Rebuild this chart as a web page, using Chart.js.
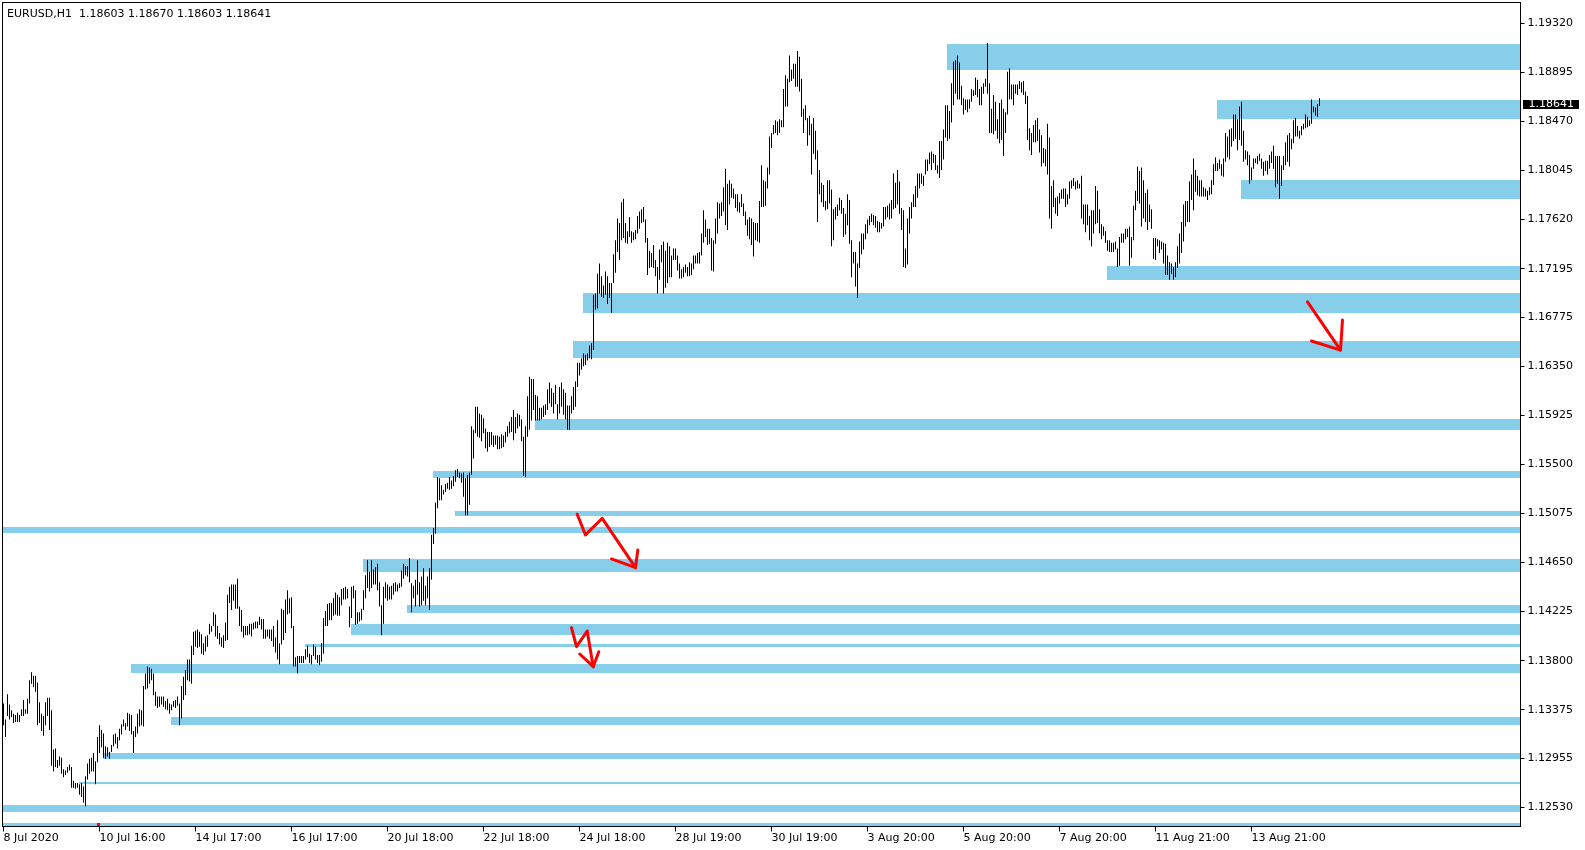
<!DOCTYPE html>
<html lang="en">
<head>
  <meta charset="utf-8">
  <title>EURUSD,H1</title>
  <script src="https://cdn.jsdelivr.net/npm/chart.js@4.4.1/dist/chart.umd.min.js"></script>
  <style>
    html, body { margin: 0; padding: 0; background: #fff; }
  </style>
</head>
<body>
  <canvas id="chart-0" width="1585" height="850"></canvas>

  <script>

    // EURUSD H1 bars (one per hour, oldest first)
    let highs = [
      1.1343,1.1329,1.1351,1.1342,1.1337,1.1334,1.1333,1.1335,1.1333,1.1338,
      1.1346,1.1338,1.1347,1.1363,1.1370,1.1367,1.1367,1.1361,1.1344,1.1334,
      1.1332,1.1344,1.1348,1.1348,1.1337,1.1303,1.1304,1.1294,1.1297,1.1296,
      1.1286,1.1285,1.1288,1.1290,1.1288,1.1276,1.1274,1.1274,1.1273,1.1274,
      1.1271,1.1280,1.1291,1.1295,1.1296,1.1300,1.1293,1.1314,1.1324,1.1320,
      1.1317,1.1306,1.1305,1.1301,1.1307,1.1316,1.1317,1.1314,1.1321,1.1325,
      1.1329,1.1326,1.1335,1.1334,1.1333,1.1319,1.1323,1.1334,1.1338,1.1337,
      1.1358,1.1369,1.1375,1.1374,1.1373,1.1369,1.1353,1.1349,1.1349,1.1349,
      1.1349,1.1345,1.1347,1.1343,1.1342,1.1345,1.1346,1.1349,1.1343,1.1358,
      1.1366,1.1372,1.1381,1.1381,1.1393,1.1405,1.1406,1.1407,1.1405,1.1403,
      1.1395,1.1401,1.1402,1.1412,1.1410,1.1422,1.1420,1.1410,1.1404,1.1400,
      1.1402,1.1413,1.1437,1.1444,1.1446,1.1446,1.1446,1.1451,1.1427,1.1424,
      1.1410,1.1410,1.1410,1.1412,1.1412,1.1413,1.1414,1.1414,1.1418,1.1416,
      1.1416,1.1407,1.1407,1.1407,1.1407,1.1410,1.1400,1.1415,1.1395,1.1425,
      1.1424,1.1433,1.1441,1.1434,1.1435,1.1410,1.1383,1.1384,1.1384,1.1384,
      1.1384,1.1390,1.1393,1.1386,1.1385,1.1394,1.1392,1.1385,1.1385,1.1395,
      1.1417,1.1423,1.1429,1.1430,1.1430,1.1434,1.1439,1.1437,1.1435,1.1442,
      1.1443,1.1444,1.1442,1.1427,1.1444,1.1445,1.1441,1.1422,1.1422,1.1425,
      1.1441,1.1454,1.1467,1.1457,1.1467,1.1459,1.1461,1.1464,1.1448,1.1428,
      1.1444,1.1448,1.1446,1.1444,1.1445,1.1447,1.1448,1.1446,1.1447,1.1458,
      1.1464,1.1462,1.1462,1.1469,1.1447,1.1445,1.1450,1.1467,1.1448,1.1453,
      1.1460,1.1445,1.1453,1.1460,1.1489,1.1495,1.1517,1.1539,1.1538,1.1532,
      1.1528,1.1533,1.1534,1.1539,1.1536,1.1540,1.1545,1.1546,1.1543,1.1542,
      1.1543,1.1538,1.1541,1.1543,1.1583,1.1580,1.1600,1.1600,1.1594,1.1593,
      1.1590,1.1581,1.1578,1.1578,1.1578,1.1575,1.1575,1.1575,1.1574,1.1576,
      1.1575,1.1578,1.1583,1.1587,1.1591,1.1597,1.1591,1.1594,1.1593,1.1589,
      1.1574,1.1583,1.1609,1.1626,1.1624,1.1624,1.1610,1.1609,1.1599,1.1599,
      1.1601,1.1602,1.1615,1.1621,1.1616,1.1612,1.1619,1.1602,1.1617,1.1621,
      1.1615,1.1612,1.1601,1.1601,1.1609,1.1617,1.1622,1.1638,1.1638,1.1642,
      1.1646,1.1645,1.1646,1.1653,1.1655,1.1697,1.1698,1.1715,1.1724,1.1713,
      1.1705,1.1717,1.1713,1.1707,1.1707,1.1732,1.1744,1.1763,1.1759,1.1777,
      1.1780,1.1759,1.1752,1.1764,1.1752,1.1751,1.1753,1.1765,1.1769,1.1771,
      1.1773,1.1762,1.1746,1.1735,1.1733,1.1740,1.1727,1.1721,1.1736,1.1740,
      1.1743,1.1735,1.1742,1.1739,1.1731,1.1737,1.1737,1.1731,1.1724,1.1719,
      1.1721,1.1723,1.1721,1.1725,1.1724,1.1731,1.1731,1.1733,1.1734,1.1750,
      1.1770,1.1762,1.1754,1.1754,1.1746,1.1744,1.1763,1.1777,1.1776,1.1777,
      1.1790,1.1806,1.1793,1.1796,1.1793,1.1789,1.1784,1.1784,1.1777,1.1784,
      1.1776,1.1769,1.1762,1.1764,1.1763,1.1760,1.1759,1.1759,1.1778,1.1809,
      1.1796,1.1795,1.1807,1.1834,1.1837,1.1844,1.1848,1.1847,1.1849,1.1848,
      1.1875,1.1887,1.1884,1.1904,1.1892,1.1897,1.1897,1.1908,1.1903,1.1884,
      1.1858,1.1861,1.1850,1.1852,1.1845,1.1850,1.1839,1.1822,1.1805,1.1794,
      1.1792,1.1778,1.1796,1.1796,1.1788,1.1771,1.1773,1.1775,1.1781,1.1779,
      1.1772,1.1767,1.1784,1.1779,1.1744,1.1734,1.1734,1.1724,1.1743,1.1750,
      1.1750,1.1758,1.1762,1.1765,1.1767,1.1766,1.1765,1.1761,1.1760,1.1759,
      1.1773,1.1773,1.1774,1.1776,1.1779,1.1802,1.1794,1.1805,1.1795,1.1772,
      1.1770,1.1737,1.1763,1.1773,1.1777,1.1784,1.1791,1.1802,1.1802,1.1802,
      1.1800,1.1814,1.1814,1.1820,1.1821,1.1819,1.1818,1.1809,1.1830,1.1830,
      1.1840,1.1861,1.1861,1.1856,1.1880,1.1899,1.1900,1.1904,1.1898,1.1878,
      1.1867,1.1866,1.1866,1.1866,1.1875,1.1874,1.1885,1.1883,1.1875,1.1877,
      1.1880,1.1884,1.1915,1.1880,1.1858,1.1870,1.1864,1.1849,1.1863,1.1866,
      1.1858,1.1855,1.1890,1.1893,1.1879,1.1879,1.1879,1.1879,1.1882,1.1881,
      1.1882,1.1873,1.1869,1.1841,1.1837,1.1844,1.1848,1.1850,1.1840,1.1835,
      1.1824,1.1823,1.1845,1.1833,1.1791,1.1796,1.1781,1.1782,1.1785,1.1788,
      1.1789,1.1789,1.1784,1.1795,1.1796,1.1798,1.1795,1.1796,1.1793,1.1800,
      1.1775,1.1775,1.1775,1.1765,1.1770,1.1770,1.1791,1.1787,1.1771,1.1758,
      1.1756,1.1752,1.1744,1.1744,1.1742,1.1742,1.1743,1.1737,1.1747,1.1750,
      1.1750,1.1754,1.1754,1.1756,1.1747,1.1774,1.1787,1.1808,1.1804,1.1807,
      1.1796,1.1785,1.1788,1.1775,1.1771,1.1746,1.1746,1.1745,1.1744,1.1743,
      1.1742,1.1741,1.1731,1.1725,1.1724,1.1721,1.1725,1.1739,1.1750,1.1760,
      1.1775,1.1778,1.1778,1.1795,1.1801,1.1815,1.1805,1.1800,1.1796,1.1796,
      1.1790,1.1789,1.1787,1.1790,1.1796,1.1810,1.1816,1.1811,1.1814,1.1810,
      1.1815,1.1837,1.1834,1.1840,1.1841,1.1853,1.1853,1.1849,1.1860,1.1864,
      1.1839,1.1822,1.1821,1.1818,1.1807,1.1815,1.1815,1.1817,1.1819,1.1815,
      1.1812,1.1813,1.1813,1.1818,1.1821,1.1826,1.1817,1.1817,1.1817,1.1809,
      1.1817,1.1829,1.1835,1.1837,1.1832,1.1848,1.1850,1.1843,1.1839,1.1843,
      1.1845,1.1853,1.1851,1.1848,1.1866,1.1860,1.1859,1.1862,1.18670
    ];

    let lows = [
      1.1324,1.1314,1.1332,1.1329,1.1331,1.1326,1.1327,1.1327,1.1327,1.1332,
      1.1332,1.1334,1.1334,1.1343,1.1360,1.1357,1.1353,1.1324,1.1326,1.1319,
      1.1315,1.1324,1.1332,1.1320,1.1289,1.1284,1.1288,1.1287,1.1289,1.1282,
      1.1279,1.1281,1.1283,1.1285,1.1270,1.1270,1.1269,1.1270,1.1264,1.1262,
      1.1257,1.1254,1.1277,1.1282,1.1284,1.1284,1.1273,1.1292,1.1300,1.1305,
      1.1296,1.1295,1.1297,1.1295,1.1301,1.1306,1.1308,1.1304,1.1311,1.1316,
      1.1323,1.1320,1.1323,1.1319,1.1316,1.1300,1.1314,1.1317,1.1323,1.1324,
      1.1323,1.1355,1.1356,1.1360,1.1363,1.1350,1.1341,1.1339,1.1340,1.1342,
      1.1340,1.1338,1.1337,1.1334,1.1337,1.1340,1.1339,1.1341,1.1324,1.1330,
      1.1346,1.1350,1.1363,1.1362,1.1360,1.1385,1.1392,1.1391,1.1392,1.1386,
      1.1385,1.1388,1.1392,1.1403,1.1405,1.1410,1.1401,1.1399,1.1394,1.1392,
      1.1391,1.1397,1.1398,1.1430,1.1424,1.1432,1.1425,1.1425,1.1410,1.1405,
      1.1400,1.1402,1.1402,1.1403,1.1401,1.1407,1.1408,1.1408,1.1411,1.1407,
      1.1399,1.1399,1.1401,1.1399,1.1397,1.1392,1.1387,1.1381,1.1377,1.1394,
      1.1398,1.1404,1.1420,1.1421,1.1408,1.1375,1.1375,1.1369,1.1378,1.1378,
      1.1378,1.1381,1.1383,1.1378,1.1377,1.1384,1.1381,1.1378,1.1376,1.1379,
      1.1386,1.1410,1.1410,1.1415,1.1415,1.1419,1.1420,1.1419,1.1419,1.1428,
      1.1433,1.1433,1.1434,1.1409,1.1417,1.1434,1.1411,1.1412,1.1414,1.1415,
      1.1424,1.1434,1.1443,1.1440,1.1443,1.1446,1.1446,1.1441,1.1427,1.1402,
      1.1412,1.1434,1.1432,1.1433,1.1433,1.1437,1.1440,1.1440,1.1443,1.1444,
      1.1451,1.1454,1.1453,1.1448,1.1422,1.1434,1.1427,1.1437,1.1427,1.1428,
      1.1432,1.1428,1.1434,1.1424,1.1450,1.1481,1.1490,1.1512,1.1519,1.1519,
      1.1524,1.1526,1.1529,1.1528,1.1529,1.1531,1.1535,1.1539,1.1538,1.1534,
      1.1522,1.1506,1.1506,1.1515,1.1541,1.1555,1.1577,1.1574,1.1573,1.1570,
      1.1577,1.1564,1.1561,1.1565,1.1567,1.1565,1.1567,1.1563,1.1563,1.1564,
      1.1565,1.1569,1.1574,1.1577,1.1578,1.1571,1.1577,1.1581,1.1583,1.1570,
      1.1540,1.1539,1.1574,1.1580,1.1588,1.1597,1.1588,1.1588,1.1588,1.1589,
      1.1591,1.1593,1.1597,1.1603,1.1600,1.1594,1.1602,1.1589,1.1594,1.1600,
      1.1593,1.1589,1.1580,1.1580,1.1594,1.1597,1.1600,1.1617,1.1627,1.1632,
      1.1635,1.1636,1.1640,1.1642,1.1641,1.1649,1.1684,1.1685,1.1698,1.1695,
      1.1694,1.1697,1.1689,1.1694,1.1681,1.1707,1.1716,1.1734,1.1727,1.1744,
      1.1746,1.1742,1.1741,1.1747,1.1742,1.1744,1.1745,1.1750,1.1754,1.1759,
      1.1760,1.1742,1.1714,1.1720,1.1721,1.1720,1.1713,1.1698,1.1710,1.1725,
      1.1698,1.1703,1.1707,1.1712,1.1712,1.1727,1.1727,1.1718,1.1711,1.1711,
      1.1712,1.1716,1.1713,1.1713,1.1714,1.1719,1.1724,1.1724,1.1724,1.1731,
      1.1742,1.1747,1.1740,1.1741,1.1718,1.1717,1.1741,1.1750,1.1763,1.1765,
      1.1769,1.1757,1.1753,1.1775,1.1781,1.1780,1.1772,1.1769,1.1768,1.1773,
      1.1765,1.1757,1.1748,1.1745,1.1740,1.1730,1.1744,1.1743,1.1742,1.1773,
      1.1773,1.1774,1.1789,1.1801,1.1824,1.1836,1.1837,1.1835,1.1837,1.1842,
      1.1842,1.1860,1.1860,1.1881,1.1882,1.1884,1.1877,1.1877,1.1873,1.1851,
      1.1837,1.1848,1.1826,1.1835,1.1801,1.1819,1.1814,1.1760,1.1784,1.1777,
      1.1773,1.1770,1.1771,1.1776,1.1739,1.1744,1.1762,1.1765,1.1770,1.1767,
      1.1747,1.1749,1.1757,1.1741,1.1712,1.1724,1.1704,1.1694,1.1720,1.1732,
      1.1736,1.1745,1.1750,1.1757,1.1760,1.1757,1.1755,1.1751,1.1751,1.1754,
      1.1756,1.1762,1.1764,1.1762,1.1763,1.1771,1.1772,1.1775,1.1767,1.1753,
      1.1721,1.1720,1.1723,1.1750,1.1763,1.1773,1.1773,1.1781,1.1789,1.1793,
      1.1791,1.1801,1.1804,1.1810,1.1805,1.1811,1.1805,1.1802,1.1798,1.1805,
      1.1814,1.1833,1.1830,1.1832,1.1846,1.1861,1.1871,1.1866,1.1866,1.1861,
      1.1853,1.1857,1.1855,1.1858,1.1864,1.1869,1.1870,1.1868,1.1861,1.1861,
      1.1871,1.1877,1.1871,1.1837,1.1837,1.1836,1.1839,1.1832,1.1828,1.1831,
      1.1817,1.1837,1.1853,1.1866,1.1866,1.1861,1.1871,1.1870,1.1875,1.1872,
      1.1870,1.1862,1.1831,1.1822,1.1818,1.1829,1.1829,1.1830,1.1820,1.1808,
      1.1811,1.1808,1.1801,1.1763,1.1754,1.1773,1.1767,1.1765,1.1776,1.1780,
      1.1780,1.1773,1.1775,1.1780,1.1789,1.1791,1.1788,1.1789,1.1789,1.1763,
      1.1758,1.1751,1.1757,1.1744,1.1739,1.1750,1.1758,1.1759,1.1750,1.1745,
      1.1748,1.1742,1.1735,1.1734,1.1734,1.1734,1.1736,1.1721,1.1722,1.1742,
      1.1742,1.1745,1.1747,1.1722,1.1729,1.1744,1.1770,1.1778,1.1776,1.1756,
      1.1763,1.1760,1.1753,1.1760,1.1754,1.1728,1.1727,1.1739,1.1733,1.1736,
      1.1724,1.1714,1.1714,1.1710,1.1715,1.1710,1.1712,1.1720,1.1724,1.1733,
      1.1743,1.1756,1.1760,1.1760,1.1779,1.1770,1.1786,1.1783,1.1782,1.1782,
      1.1782,1.1782,1.1779,1.1783,1.1784,1.1792,1.1804,1.1804,1.1806,1.1800,
      1.1799,1.1812,1.1816,1.1814,1.1825,1.1830,1.1832,1.1822,1.1831,1.1826,
      1.1812,1.1814,1.1809,1.1793,1.1796,1.1806,1.1811,1.1810,1.1813,1.1806,
      1.1800,1.1804,1.1801,1.1806,1.1811,1.1806,1.1790,1.1793,1.1780,1.1791,
      1.1805,1.1809,1.1812,1.1808,1.1823,1.1828,1.1834,1.1834,1.1832,1.1835,
      1.1840,1.1841,1.1842,1.1843,1.1845,1.1855,1.1852,1.1851,1.18603
    ];

    // last bar as shown in the header: open, high, low, close
    let lastBar = [1.18603, 1.18670, 1.18603, 1.18641];
    let symbol = 'EURUSD,H1';

    // one time label every 48 bars
    let timeLabels = [
      '8 Jul 2020', '10 Jul 16:00', '14 Jul 17:00', '16 Jul 17:00', '20 Jul 18:00',
      '22 Jul 18:00', '24 Jul 18:00', '28 Jul 19:00', '30 Jul 19:00', '3 Aug 20:00',
      '5 Aug 20:00', '7 Aug 20:00', '11 Aug 21:00', '13 Aug 21:00'
    ];
    let labelStep = 48;

    let priceTicks = [
      1.12530, 1.12955, 1.13375, 1.13800, 1.14225, 1.14650, 1.15075, 1.15500, 1.15925,
      1.16350, 1.16775, 1.17195, 1.17620, 1.18045, 1.18470, 1.18895, 1.19320
    ];

    // zones: [first bar, upper price, lower price]; -1 starts at the left edge
    let zones = [
      [472, 1.19141, 1.18916],
      [607, 1.18656, 1.18491],
      [619, 1.17963, 1.17798],
      [552, 1.17218, 1.17097],
      [290, 1.16984, 1.16811],
      [285, 1.16568, 1.16421],
      [266, 1.15893, 1.15798],
      [215, 1.15442, 1.15382],
      [226, 1.15096, 1.15053],
      [-1, 1.14957, 1.14906],
      [180, 1.14680, 1.14568],
      [202, 1.14282, 1.14213],
      [174, 1.14117, 1.14022],
      [151, 1.13944, 1.13918],
      [64, 1.13771, 1.13693],
      [84, 1.13312, 1.13243],
      [50, 1.13000, 1.12948],
      [38, 1.12749, 1.12732],
      [-1, 1.12550, 1.12489],
      [-1, 1.12394, 1.12368]
    ];

    // hand drawn red arrows, as [bar, price] points
    let arrows = [
      [[652, 1.16907], [668.5, 1.16490]],
      [[654, 1.16569], [668.5, 1.16490], [669.5, 1.16751]],
      [[286.85, 1.15068], [291, 1.14889], [299.35, 1.15033], [316, 1.14606]],
      [[304, 1.14681], [316, 1.14606], [317.15, 1.14759]],
      [[284, 1.14086], [286.5, 1.13922], [291.85, 1.14057], [294.85, 1.13748]],
      [[288.15, 1.13858], [294.85, 1.13748], [297.65, 1.13878]]
    ];

    let markerBar = 47;

    let font = { family: 'DejaVu Sans', size: 11 };
    let zoneColor = '#87ceeb';

    let bars = highs.map((h, i) => ({ x: i, y: [lows[i], h] }));

    let zonePlugin = {
      id: 'zones',
      beforeDatasetsDraw(chart) {
        let { ctx, chartArea: a, scales: { x, y } } = chart;
        ctx.save();
        ctx.fillStyle = zoneColor;
        zones.forEach(function(z) {
          let left = z[0] < 0 ? a.left : Math.round(x.getPixelForValue(z[0]) - 0.5);
          let top = Math.round(y.getPixelForValue(z[1]));
          let bottom = Math.round(y.getPixelForValue(z[2]));
          ctx.fillRect(left, top, a.right - left, Math.max(bottom - top, 1));
        });
        ctx.restore();
      }
    };

    let overlayPlugin = {
      id: 'overlay',
      afterDatasetsDraw(chart) {
        let { ctx, chartArea: a, scales: { x, y } } = chart;
        ctx.save();
        ctx.beginPath();
        ctx.rect(a.left, a.top, a.right - a.left, a.bottom - a.top);
        ctx.clip();
        ctx.strokeStyle = '#ff0000';
        ctx.lineWidth = 3;
        ctx.lineJoin = 'round';
        ctx.lineCap = 'round';
        arrows.forEach(function(pts) {
          ctx.beginPath();
          pts.forEach(function(p, k) {
            let px = x.getPixelForValue(p[0]);
            let py = y.getPixelForValue(p[1]);
            if (k === 0) ctx.moveTo(px, py); else ctx.lineTo(px, py);
          });
          ctx.stroke();
        });
        ctx.fillStyle = '#ff0000';
        ctx.fillRect(Math.round(x.getPixelForValue(markerBar)) - 1, a.bottom - 3.5, 3, 3);
        ctx.restore();

        // frame
        ctx.save();
        ctx.strokeStyle = '#000';
        ctx.lineWidth = 1;
        ctx.strokeRect(a.left, a.top, a.right - a.left, a.bottom - a.top);
        ctx.restore();
      },
      afterDraw(chart) {
        let { ctx, chartArea: a, scales: { y } } = chart;
        ctx.save();
        ctx.font = font.size + 'px "' + font.family + '"';
        ctx.textBaseline = 'alphabetic';
        ctx.fillStyle = '#000';
        let head = symbol + '  ' + lastBar.map(v => v.toFixed(5)).join(' ');
        ctx.fillText(head, 7, 17);

        // current price tag on the axis
        let py = y.getPixelForValue(lastBar[3]);
        ctx.fillStyle = '#000';
        ctx.fillRect(a.right + 2.5, Math.round(py - 1.7), 56, 9);
        ctx.fillStyle = '#fff';
        ctx.fillText(lastBar[3].toFixed(5), a.right + 8, Math.round(py + 5.3));
        ctx.restore();
      }
    };

    let chart = new Chart('chart-0', {
      type: 'bar',
      data: {
        datasets: [{
          data: bars,
          backgroundColor: '#000',
          borderWidth: 0,
          inflateAmount: 0,
          barThickness: 1
        }]
      },
      options: {
        responsive: false,
        animation: false,
        events: [],
        layout: { padding: { left: 2.5, top: 2.5, right: 0, bottom: 0 } },
        plugins: {
          legend: { display: false },
          tooltip: { enabled: false }
        },
        scales: {
          x: {
            type: 'linear',
            min: -0.5,
            max: 758.5,
            offset: false,
            afterBuildTicks: s => { s.ticks = timeLabels.map((t, k) => ({ value: k * labelStep })); },
            afterFit: s => { s.height = 23.5; s.paddingLeft = 0; s.paddingRight = 0; },
            ticks: {
              align: 'start',
              autoSkip: false,
              maxRotation: 0,
              padding: 0,
              color: '#000',
              font: font,
              callback: (v, i) => timeLabels[i]
            },
            grid: { offset: false, drawOnChartArea: false, drawTicks: true, tickLength: 5, color: '#000' },
            border: { display: false }
          },
          y: {
            position: 'right',
            min: 1.12364,
            max: 1.19500,
            beginAtZero: false,
            afterBuildTicks: s => { s.ticks = priceTicks.map(v => ({ value: v })); },
            afterFit: s => { s.width = 64.5; s.paddingTop = 0; s.paddingBottom = 0; },
            ticks: {
              padding: 3,
              color: '#000',
              font: font,
              callback: v => v.toFixed(5)
            },
            grid: { drawOnChartArea: false, drawTicks: true, tickLength: 4, color: '#000' },
            border: { display: false }
          }
        }
      },
      plugins: [zonePlugin, overlayPlugin]
    });

  </script>
</body>
</html>
